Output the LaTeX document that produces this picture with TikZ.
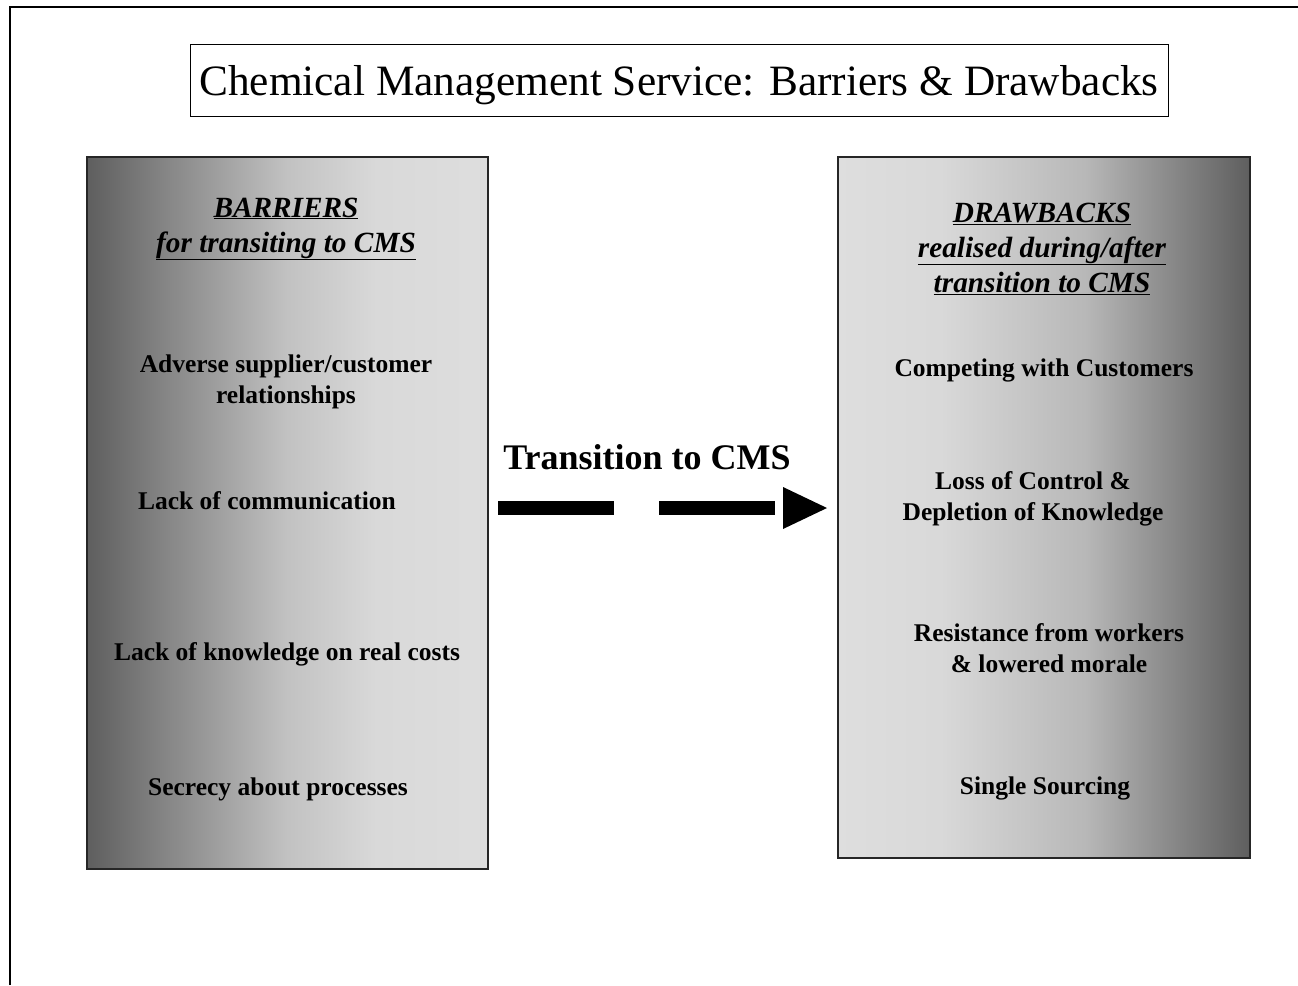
\documentclass[tikz,border=0pt]{standalone}
\usepackage{fontspec}
\setmainfont{Liberation Serif}
\usetikzlibrary{arrows.meta}
\definecolor{dk}{gray}{0.37}
\definecolor{lt}{gray}{0.85}
\definecolor{lt2}{gray}{0.87}
\definecolor{lmid}{gray}{0.76}
\definecolor{rmid}{gray}{0.72}
\definecolor{boxline}{gray}{0.15}
\pgfdeclarehorizontalshading{lgrad}{100bp}{color(0bp)=(dk); color(25bp)=(dk); color(50bp)=(lmid); color(61bp)=(lt); color(75bp)=(lt2); color(100bp)=(lt2)}
\pgfdeclarehorizontalshading{rgrad}{100bp}{color(0bp)=(lt2); color(25bp)=(lt2); color(37.5bp)=(lt); color(55bp)=(rmid); color(75bp)=(dk); color(100bp)=(dk)}
\begin{document}
\begin{tikzpicture}[x=1pt,y=-1pt,
  panel/.style={draw=boxline, line width=1.5pt, outer sep=0pt, anchor=north west},
  item/.style={font=\fontsize{25.5}{31}\selectfont\bfseries, align=center, inner sep=0pt, anchor=base},
  head/.style={font=\fontsize{29.3}{35}\selectfont\bfseries\itshape, align=center, inner sep=0pt, anchor=base},
  flow/.style={line width=14pt, dash pattern=on 116pt off 45pt on 116pt off 40pt, -{Triangle[length=44pt,width=42pt,line width=0pt]}}]
\useasboundingbox (0,0) rectangle (1298,985);
% frame
\draw[line width=2pt] (10,985) -- (10,7) -- (1298,7);
% title
\node[draw, line width=1pt, minimum width=978pt, minimum height=72pt, inner sep=0pt,
      text height=36pt, text depth=5pt,
      font=\fontsize{43.3}{44}\selectfont] (T) at (679,80) {Chemical Management Service: Barriers \& Drawbacks};
% panels
\node[panel, minimum width=401pt, minimum height=712pt, shading=lgrad] (L) at (87,157) {};
\node[panel, minimum width=412pt, minimum height=701pt, shading=rgrad] (R) at (838,157) {};
% left texts
\node[head] (lh) at (286,252) {\underline{BARRIERS}\\\underline{for transiting to CMS}};
\node[item] (l1) at (286,403) {Adverse supplier/customer\\relationships};
\node[item] (l2) at (267,509) {Lack of communication};
\node[item] (l3) at (287,660) {Lack of knowledge on real costs};
\node[item] (l4) at (278,795) {Secrecy about processes};
% right texts
\node[head] (rh) at (1042,292) {\underline{DRAWBACKS}\\\underline{realised during/after}\\\underline{transition to CMS}};
\node[item] (r1) at (1044,376) {Competing with Customers};
\node[item] (r2) at (1033,520) {Loss of Control \&\\Depletion of Knowledge};
\node[item] (r3) at (1049,672) {Resistance from workers\\\& lowered morale};
\node[item] (r4) at (1045,794) {Single Sourcing};
% transition
\node[font=\fontsize{36}{36}\selectfont\bfseries, inner sep=0pt, anchor=base] (tr) at (647,469) {Transition to CMS};
\coordinate (ay) at (0,508);
\draw[flow, shorten <=10pt, shorten >=11pt] (L.east |- ay) -- (R.west |- ay);
\end{tikzpicture}
\end{document}
